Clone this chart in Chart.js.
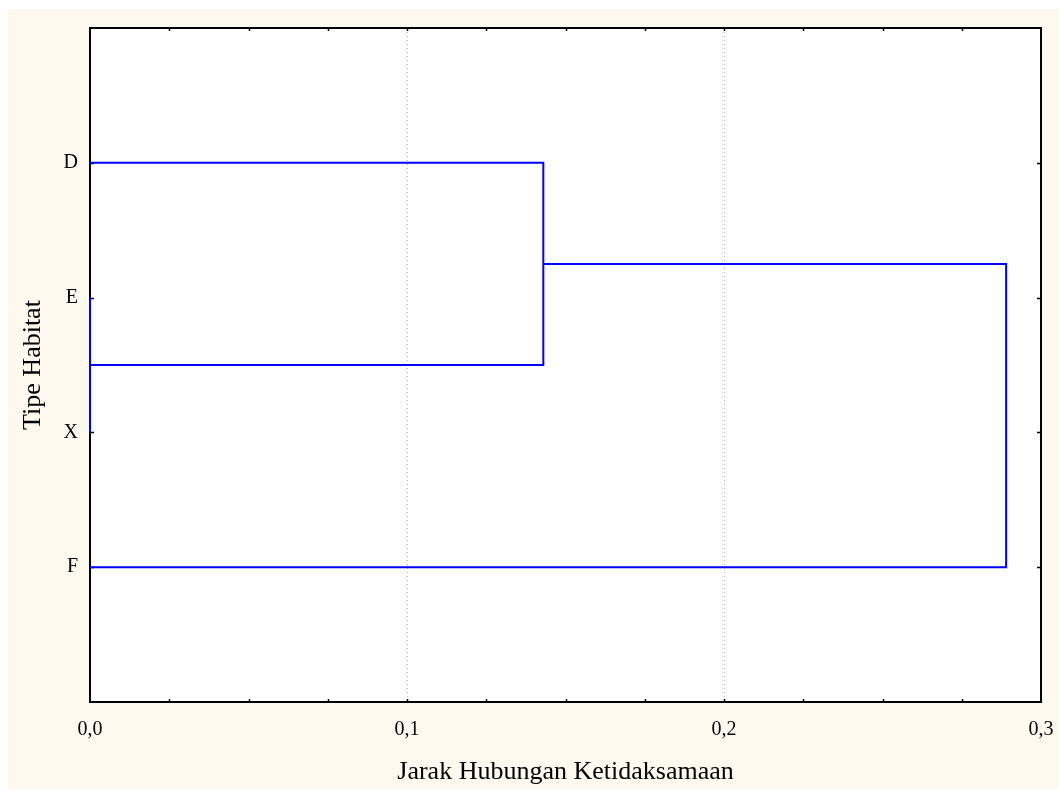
<!DOCTYPE html>
<html>
<head>
<meta charset="utf-8">
<script src="https://cdn.jsdelivr.net/npm/chart.js@4"></script>
<style>
    html, body { margin: 0; padding: 0; background: #ffffff; overflow: hidden; }
    #wrap { position: relative; width: 1059px; height: 789px; }
</style>
</head>
<body>
<div id="wrap"><canvas id="chart"></canvas></div>
<script>
/** Leaves of the dendrogram, top to bottom. */
const leafLabels = ['D', 'E', 'X', 'F'];
/** Row of each leaf on the vertical axis. */
const leafRows = [1, 2, 3, 4];

/**
 * Linkage table: node indices 0..3 are the leaves, 4.. are the merges in order.
 */
const linkLeft = [1, 0, 5];
const linkRight = [2, 4, 3];
const linkDistance = [0.0, 0.143, 0.289];

/** Horizontal axis ticks. */
const xMin = 0;
const xMax = 0.3;
const xMajorStep = 0.1;
const xMinorStep = 0.025;

const BG = '#fdf9ef';
const LINE = '#0000ff';
const FONT = "'Liberation Serif', 'Times New Roman', serif";

/**
 * Turn the linkage table into one polyline per merge.
 */
function buildLinks() {
    const nodeRow = leafRows.slice();
    const nodeHeight = leafRows.map(() => 0);
    const paths = [];
    for (let i = 0; i < linkDistance.length; i++) {
        const a = linkLeft[i];
        const b = linkRight[i];
        const d = linkDistance[i];
        paths.push([
            {x: nodeHeight[a], y: nodeRow[a]},
            {x: d, y: nodeRow[a]},
            {x: d, y: nodeRow[b]},
            {x: nodeHeight[b], y: nodeRow[b]}
        ]);
        nodeRow.push((nodeRow[a] + nodeRow[b]) / 2);
        nodeHeight.push(d);
    }
    return paths;
}

/**
 * Background, plot frame and inward tick marks.
 */
const framePlugin = {
    id: 'frame',
    beforeDraw(chart) {
        const {ctx, chartArea: a, width, height} = chart;
        ctx.save();
        ctx.fillStyle = BG;
        ctx.fillRect(8, 9, width - 8, height - 9);
        ctx.fillStyle = '#ffffff';
        ctx.fillRect(a.left, a.top, a.right - a.left, a.bottom - a.top);
        ctx.restore();
    },
    beforeDatasetsDraw(chart) {
        const {ctx, chartArea: a, scales} = chart;
        ctx.save();
        ctx.strokeStyle = '#000000';
        ctx.lineWidth = 2;
        ctx.strokeRect(a.left, a.top, a.right - a.left, a.bottom - a.top);
        ctx.lineWidth = 1.5;
        ctx.beginPath();
        const steps = Math.round((xMax - xMin) / xMinorStep);
        for (let i = 1; i < steps; i++) {
            const px = Math.round(scales.x.getPixelForValue(xMin + i * xMinorStep)) + 0.5;
            ctx.moveTo(px, a.bottom);
            ctx.lineTo(px, a.bottom - 3);
            ctx.moveTo(px, a.top);
            ctx.lineTo(px, a.top + 3);
        }
        leafRows.forEach(r => {
            const py = Math.round(scales.y.getPixelForValue(r)) + 0.5;
            ctx.moveTo(a.left, py);
            ctx.lineTo(a.left + 4, py);
            ctx.moveTo(a.right, py);
            ctx.lineTo(a.right - 4, py);
        });
        ctx.stroke();
        ctx.restore();
    }
};

document.addEventListener('DOMContentLoaded', function () {
    const datasets = buildLinks().map(points => ({
        data: points,
        showLine: true,
        borderColor: LINE,
        borderWidth: 2,
        pointRadius: 0,
        fill: false,
        tension: 0,
        clip: 4
    }));

    new Chart(document.getElementById('chart').getContext('2d'), {
        type: 'scatter',
        data: {datasets: datasets},
        plugins: [framePlugin],
        options: {
            responsive: true,
            maintainAspectRatio: false,
            animation: false,
            devicePixelRatio: 1,
            layout: {padding: {top: 28, right: 18, left: 0, bottom: 0}},
            plugins: {legend: {display: false}, tooltip: {enabled: false}},
            scales: {
                x: {
                    type: 'linear',
                    min: xMin,
                    max: xMax,
                    afterFit(scale) {
                        scale.height = 87;
                        scale.paddingLeft = 0;
                        scale.paddingRight = 0;
                    },
                    border: {display: false, dash: [1, 3]},
                    grid: {
                        drawTicks: false,
                        tickLength: 0,
                        lineWidth: 1,
                        color(c) {
                            const v = c.tick ? c.tick.value : 0;
                            return (v > xMin + 1e-9 && v < xMax - 1e-9) ? '#b8b8b8' : 'rgba(0,0,0,0)';
                        }
                    },
                    ticks: {
                        stepSize: xMajorStep,
                        padding: 16,
                        color: '#000000',
                        font: {family: FONT, size: 20},
                        maxRotation: 0,
                        callback: v => v.toFixed(1).replace('.', ',')
                    },
                    title: {
                        display: true,
                        text: 'Jarak Hubungan Ketidaksamaan',
                        color: '#000000',
                        font: {family: FONT, size: 26, lineHeight: 1.2},
                        padding: {top: 0, bottom: 1}
                    }
                },
                y: {
                    type: 'linear',
                    min: 0,
                    max: leafRows.length + 1,
                    reverse: true,
                    afterFit(scale) {
                        scale.width = 90;
                        scale.paddingTop = 0;
                        scale.paddingBottom = 0;
                    },
                    border: {display: false},
                    grid: {display: false, drawTicks: false, tickLength: 0},
                    ticks: {
                        stepSize: 1,
                        padding: 12,
                        color: '#000000',
                        font: {family: FONT, size: 20},
                        callback: v => {
                            const i = leafRows.indexOf(v);
                            return i >= 0 ? leafLabels[i] : '';
                        }
                    },
                    title: {
                        display: true,
                        text: 'Tipe Habitat',
                        color: '#000000',
                        font: {family: FONT, size: 26, lineHeight: 1.2},
                        padding: {top: 18, bottom: 0}
                    }
                }
            }
        }
    });
});
</script>
</body>
</html>
